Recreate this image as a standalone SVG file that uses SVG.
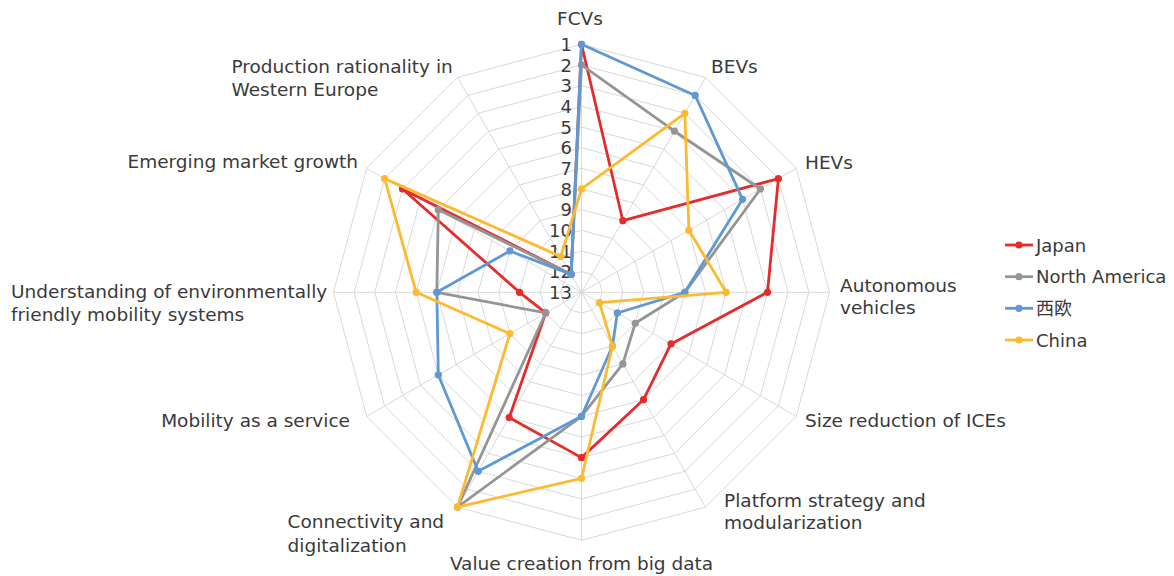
<svg xmlns="http://www.w3.org/2000/svg" width="1174" height="576" viewBox="0 0 1174 576">
<style>
.bg{fill:#ffffff}
.grid{fill:none;stroke:#d9d9d9;stroke-width:1}
.lbl{font-family:"DejaVu Sans","Noto Sans CJK JP",sans-serif;font-size:18.5px;fill:#3a3a3a}
.leg{font-family:"DejaVu Sans","Noto Sans CJK JP",sans-serif;font-size:18px;fill:#3a3a3a}
.rank{font-family:"DejaVu Sans",sans-serif;font-size:18px;fill:#3a3a3a;text-anchor:end}
.ser{fill:none;stroke-width:2.8;stroke-linejoin:round}
.jp{stroke:#e52b2b}.jpf{fill:#e52b2b}
.na{stroke:#959595}.naf{fill:#959595}
.we{stroke:#5f98d5}.wef{fill:#5f98d5}
.cn{stroke:#fdb92f}.cnf{fill:#fdb92f}
</style>
<rect class="bg" x="0" y="0" width="1174" height="576"/>
<g id="grid" transform="translate(581.5,292.3)">
<polygon class="grid" points="0,-248 124,-214.8 214.8,-124 248,0 214.8,124 124,214.8 0,248 -124,214.8 -214.8,124 -248,0 -214.8,-124 -124,-214.8"/>
<polygon class="grid" points="0,-227.3 113.7,-196.9 196.9,-113.7 227.3,0 196.9,113.7 113.7,196.9 0,227.3 -113.7,196.9 -196.9,113.7 -227.3,0 -196.9,-113.7 -113.7,-196.9"/>
<polygon class="grid" points="0,-206.7 103.3,-179 179,-103.3 206.7,0 179,103.3 103.3,179 0,206.7 -103.3,179 -179,103.3 -206.7,0 -179,-103.3 -103.3,-179"/>
<polygon class="grid" points="0,-186 93,-161.1 161.1,-93 186,0 161.1,93 93,161.1 0,186 -93,161.1 -161.1,93 -186,0 -161.1,-93 -93,-161.1"/>
<polygon class="grid" points="0,-165.3 82.7,-143.2 143.2,-82.7 165.3,0 143.2,82.7 82.7,143.2 0,165.3 -82.7,143.2 -143.2,82.7 -165.3,0 -143.2,-82.7 -82.7,-143.2"/>
<polygon class="grid" points="0,-144.7 72.3,-125.3 125.3,-72.3 144.7,0 125.3,72.3 72.3,125.3 0,144.7 -72.3,125.3 -125.3,72.3 -144.7,0 -125.3,-72.3 -72.3,-125.3"/>
<polygon class="grid" points="0,-124 62,-107.4 107.4,-62 124,0 107.4,62 62,107.4 0,124 -62,107.4 -107.4,62 -124,0 -107.4,-62 -62,-107.4"/>
<polygon class="grid" points="0,-103.3 51.7,-89.5 89.5,-51.7 103.3,0 89.5,51.7 51.7,89.5 0,103.3 -51.7,89.5 -89.5,51.7 -103.3,0 -89.5,-51.7 -51.7,-89.5"/>
<polygon class="grid" points="0,-82.7 41.3,-71.6 71.6,-41.3 82.7,0 71.6,41.3 41.3,71.6 0,82.7 -41.3,71.6 -71.6,41.3 -82.7,0 -71.6,-41.3 -41.3,-71.6"/>
<polygon class="grid" points="0,-62 31,-53.7 53.7,-31 62,0 53.7,31 31,53.7 0,62 -31,53.7 -53.7,31 -62,0 -53.7,-31 -31,-53.7"/>
<polygon class="grid" points="0,-41.3 20.7,-35.8 35.8,-20.7 41.3,0 35.8,20.7 20.7,35.8 0,41.3 -20.7,35.8 -35.8,20.7 -41.3,0 -35.8,-20.7 -20.7,-35.8"/>
<polygon class="grid" points="0,-20.7 10.3,-17.9 17.9,-10.3 20.7,0 17.9,10.3 10.3,17.9 0,20.7 -10.3,17.9 -17.9,10.3 -20.7,0 -17.9,-10.3 -10.3,-17.9"/>
<path class="grid" d="M0,0L0,-248M0,0L124,-214.8M0,0L214.8,-124M0,0L248,0M0,0L214.8,124M0,0L124,214.8M0,0L0,248M0,0L-124,214.8M0,0L-214.8,124M0,0L-248,0M0,0L-214.8,-124M0,0L-124,-214.8"/>
</g>
<g id="ranks" transform="translate(581.5,292.3)">
<text class="rank" x="-9.5" y="-241.5">1</text>
<text class="rank" x="-9.5" y="-220.8">2</text>
<text class="rank" x="-9.5" y="-200.2">3</text>
<text class="rank" x="-9.5" y="-179.5">4</text>
<text class="rank" x="-9.5" y="-158.8">5</text>
<text class="rank" x="-9.5" y="-138.2">6</text>
<text class="rank" x="-9.5" y="-117.5">7</text>
<text class="rank" x="-9.5" y="-96.8">8</text>
<text class="rank" x="-9.5" y="-76.2">9</text>
<text class="rank" x="-9.5" y="-55.5">10</text>
<text class="rank" x="-9.5" y="-34.8">11</text>
<text class="rank" x="-9.5" y="-14.2">12</text>
<text class="rank" x="-9.5" y="6.5">13</text>
</g>
<g id="axis-labels" class="lbl">
<text x="580" y="25" text-anchor="middle">FCVs</text>
<text x="711" y="73">BEVs</text>
<text x="805" y="169">HEVs</text>
<text x="840" y="291.5">Autonomous</text>
<text x="840" y="314">vehicles</text>
<text x="805" y="426.5">Size reduction of ICEs</text>
<text x="724" y="506.5">Platform strategy and</text>
<text x="724" y="529">modularization</text>
<text x="581.5" y="570" text-anchor="middle">Value creation from big data</text>
<text x="287.5" y="528.3">Connectivity and</text>
<text x="287.5" y="551.5">digitalization</text>
<text x="350" y="426.5" text-anchor="end">Mobility as a service</text>
<text x="11" y="297.5">Understanding of environmentally</text>
<text x="11" y="320.5">friendly mobility systems</text>
<text x="358" y="168" text-anchor="end">Emerging market growth</text>
<text x="231.5" y="73">Production rationality in</text>
<text x="231.5" y="96">Western Europe</text>
</g>
<g id="connectors" transform="translate(581.5,292.3)">
<g id="series-japan">
<polygon class="ser jp" points="0,-248 41.33,-71.59 196.88,-113.67 186,0 89.49,51.67 62,107.39 0,165.33 -72.33,125.29 -35.8,20.67 -62,0 -178.98,-103.33 -10.33,-17.9"/>
<g class="jpf"><circle cx="0" cy="-248" r="3.6"/><circle cx="41.33" cy="-71.59" r="3.6"/><circle cx="196.88" cy="-113.67" r="3.6"/><circle cx="186" cy="0" r="3.6"/><circle cx="89.49" cy="51.67" r="3.6"/><circle cx="62" cy="107.39" r="3.6"/><circle cx="0" cy="165.33" r="3.6"/><circle cx="-72.33" cy="125.29" r="3.6"/><circle cx="-35.8" cy="20.67" r="3.6"/><circle cx="-62" cy="0" r="3.6"/><circle cx="-178.98" cy="-103.33" r="3.6"/><circle cx="-10.33" cy="-17.9" r="3.6"/></g>
</g>
<g id="series-north-america">
<polygon class="ser na" points="0,-227.33 93,-161.08 178.98,-103.33 103.33,0 53.69,31 41.33,71.59 0,124 -124,214.77 -35.8,20.67 -144.67,0 -143.18,-82.67 -10.33,-17.9"/>
<g class="naf"><circle cx="0" cy="-227.33" r="3.6"/><circle cx="93" cy="-161.08" r="3.6"/><circle cx="178.98" cy="-103.33" r="3.6"/><circle cx="103.33" cy="0" r="3.6"/><circle cx="53.69" cy="31" r="3.6"/><circle cx="41.33" cy="71.59" r="3.6"/><circle cx="0" cy="124" r="3.6"/><circle cx="-124" cy="214.77" r="3.6"/><circle cx="-35.8" cy="20.67" r="3.6"/><circle cx="-144.67" cy="0" r="3.6"/><circle cx="-143.18" cy="-82.67" r="3.6"/><circle cx="-10.33" cy="-17.9" r="3.6"/></g>
</g>
<g id="series-western-europe">
<polygon class="ser we" points="0,-248 113.67,-196.88 161.08,-93 103.33,0 35.8,20.67 31,53.69 0,124 -103.33,178.98 -143.18,82.67 -144.67,0 -71.59,-41.33 -10.33,-17.9"/>
<g class="wef"><circle cx="0" cy="-248" r="3.6"/><circle cx="113.67" cy="-196.88" r="3.6"/><circle cx="161.08" cy="-93" r="3.6"/><circle cx="103.33" cy="0" r="3.6"/><circle cx="35.8" cy="20.67" r="3.6"/><circle cx="31" cy="53.69" r="3.6"/><circle cx="0" cy="124" r="3.6"/><circle cx="-103.33" cy="178.98" r="3.6"/><circle cx="-143.18" cy="82.67" r="3.6"/><circle cx="-144.67" cy="0" r="3.6"/><circle cx="-71.59" cy="-41.33" r="3.6"/><circle cx="-10.33" cy="-17.9" r="3.6"/></g>
</g>
<g id="series-china">
<polygon class="ser cn" points="0,-103.33 103.33,-178.98 107.39,-62 144.67,0 17.9,10.33 31,53.69 0,186 -124,214.77 -71.59,41.33 -165.33,0 -196.88,-113.67 -20.67,-35.8"/>
<g class="cnf"><circle cx="0" cy="-103.33" r="3.6"/><circle cx="103.33" cy="-178.98" r="3.6"/><circle cx="107.39" cy="-62" r="3.6"/><circle cx="144.67" cy="0" r="3.6"/><circle cx="17.9" cy="10.33" r="3.6"/><circle cx="31" cy="53.69" r="3.6"/><circle cx="0" cy="186" r="3.6"/><circle cx="-124" cy="214.77" r="3.6"/><circle cx="-71.59" cy="41.33" r="3.6"/><circle cx="-165.33" cy="0" r="3.6"/><circle cx="-196.88" cy="-113.67" r="3.6"/><circle cx="-20.67" cy="-35.8" r="3.6"/></g>
</g>
</g>
<g id="legend">
<g id="legend-japan"><line class="jp" x1="1005" y1="245" x2="1033" y2="245" stroke-width="2.8"/><circle class="jpf" cx="1019" cy="245" r="3.6"/><text class="leg" x="1036" y="251.5">Japan</text></g>
<g id="legend-north-america"><line class="na" x1="1005" y1="276.7" x2="1033" y2="276.7" stroke-width="2.8"/><circle class="naf" cx="1019" cy="276.7" r="3.6"/><text class="leg" x="1036" y="283.2">North America</text></g>
<g id="legend-western-europe"><line class="we" x1="1005" y1="308.3" x2="1033" y2="308.3" stroke-width="2.8"/><circle class="wef" cx="1019" cy="308.3" r="3.6"/><text class="leg" x="1036" y="314.8">西欧</text></g>
<g id="legend-china"><line class="cn" x1="1005" y1="340" x2="1033" y2="340" stroke-width="2.8"/><circle class="cnf" cx="1019" cy="340" r="3.6"/><text class="leg" x="1036" y="346.5">China</text></g>
</g>
</svg>
